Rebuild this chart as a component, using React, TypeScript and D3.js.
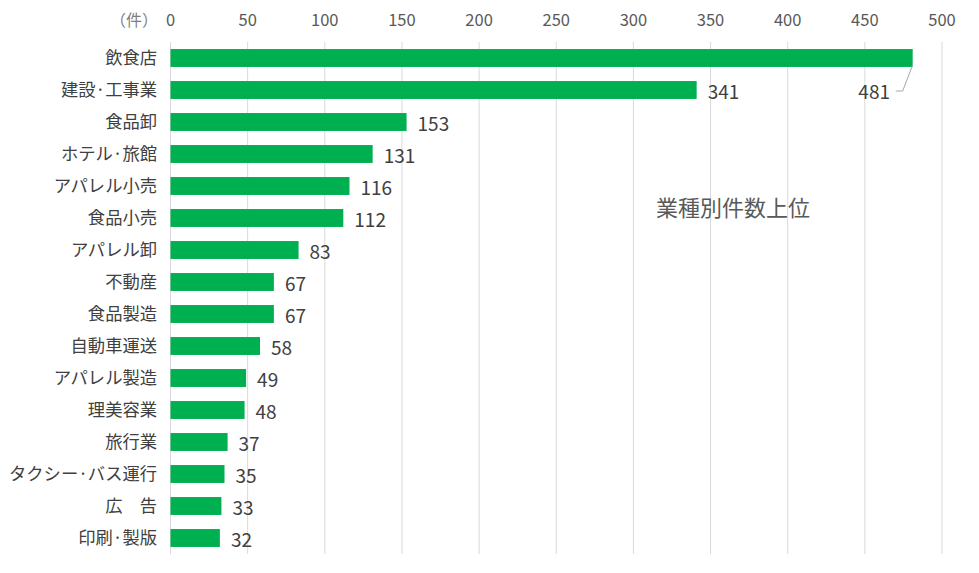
import { useEffect, useRef } from "react";
import * as d3 from "d3";

const categories = [
  "飲食店",
  "建設·工事業",
  "食品卸",
  "ホテル·旅館",
  "アパレル小売",
  "食品小売",
  "アパレル卸",
  "不動産",
  "食品製造",
  "自動車運送",
  "アパレル製造",
  "理美容業",
  "旅行業",
  "タクシー·バス運行",
  "広　告",
  "印刷·製版",
];
const counts = [481, 341, 153, 131, 116, 112, 83, 67, 67, 58, 49, 48, 37, 35, 33, 32];
const ticks = [0, 50, 100, 150, 200, 250, 300, 350, 400, 450, 500];

const FONT = "'Noto Sans CJK JP', 'Noto Sans', sans-serif";

export default function App() {
  const svgRef = useRef<SVGSVGElement>(null);

  useEffect(() => {
    if (!svgRef.current) return;
    const width = 979;
    const height = 573;
    const margin = { top: 42, right: 37, bottom: 19, left: 170.5 };

    const svg = d3.select(svgRef.current);
    svg.selectAll("*").remove();

    const x = d3
      .scaleLinear()
      .domain([0, 500])
      .range([margin.left, width - margin.right]);

    const y = d3
      .scaleBand()
      .domain(categories)
      .range([margin.top, height - margin.bottom])
      .paddingInner(0.44)
      .paddingOuter(0.22);

    // grid lines
    svg
      .append("g")
      .selectAll("line")
      .data(ticks)
      .enter()
      .append("line")
      .attr("x1", (d) => x(d))
      .attr("x2", (d) => x(d))
      .attr("y1", margin.top)
      .attr("y2", height - margin.bottom)
      .style("stroke", "#d9d9d9")
      .style("stroke-width", "1px");

    // top tick labels
    svg
      .append("g")
      .selectAll("text")
      .data(ticks)
      .enter()
      .append("text")
      .attr("x", (d) => x(d))
      .attr("y", 20)
      .attr("dy", "0.35em")
      .attr("text-anchor", "middle")
      .style("fill", "#595959")
      .style("font-size", "16.5px")
      .style("font-family", FONT)
      .text((d) => d.toString());

    svg
      .append("text")
      .attr("x", 158)
      .attr("y", 20)
      .attr("dy", "0.35em")
      .attr("text-anchor", "end")
      .style("fill", "#7f7f7f")
      .style("font-size", "16px")
      .style("font-family", FONT)
      .text("（件）");

    // bars
    svg
      .append("g")
      .selectAll("rect")
      .data(categories)
      .enter()
      .append("rect")
      .attr("x", x(0))
      .attr("y", (d) => y(d)!)
      .attr("width", (_d, i) => x(counts[i]) - x(0))
      .attr("height", y.bandwidth())
      .style("fill", "#00b050");

    // category labels
    svg
      .append("g")
      .selectAll("text")
      .data(categories)
      .enter()
      .append("text")
      .attr("x", 157)
      .attr("y", (d) => y(d)! + y.bandwidth() / 2)
      .attr("dy", "0.35em")
      .attr("text-anchor", "end")
      .style("fill", "#404040")
      .style("font-size", "17.3px")
      .style("font-family", FONT)
      .text((d) => d);

    // value labels
    svg
      .append("g")
      .selectAll("text")
      .data(categories)
      .enter()
      .append("text")
      .attr("x", (_d, i) => (i === 0 ? 890 : x(counts[i]) + 11))
      .attr("y", (d, i) =>
        i === 0 ? y(categories[1])! + y.bandwidth() / 2 + 2 : y(d)! + y.bandwidth() / 2 + 2
      )
      .attr("dy", "0.35em")
      .attr("text-anchor", (_d, i) => (i === 0 ? "end" : "start"))
      .style("fill", "#404040")
      .style("font-size", "19px")
      .style("font-family", FONT)
      .text((_d, i) => counts[i].toString());

    // leader line for 481
    const y0 = y(categories[0])! + y.bandwidth();
    const y1 = y(categories[1])! + y.bandwidth() / 2 + 1;
    svg
      .append("path")
      .attr(
        "d",
        `M${x(counts[0])},${y0 - 2} L${x(counts[0]) - 10},${y1} L${x(counts[0]) - 17},${y1}`
      )
      .style("fill", "none")
      .style("stroke", "#a6a6a6")
      .style("stroke-width", "1px");

    // annotation
    svg
      .append("text")
      .attr("x", 656)
      .attr("y", 208)
      .attr("dy", "0.35em")
      .style("fill", "#595959")
      .style("font-size", "22px")
      .style("font-family", FONT)
      .text("業種別件数上位");
  }, []);

  return (
    <div style={{ position: "absolute", left: 0, top: 0, width: 979, height: 573, background: "#fff" }}>
      <svg ref={svgRef} width={979} height={573} />
    </div>
  );
}
